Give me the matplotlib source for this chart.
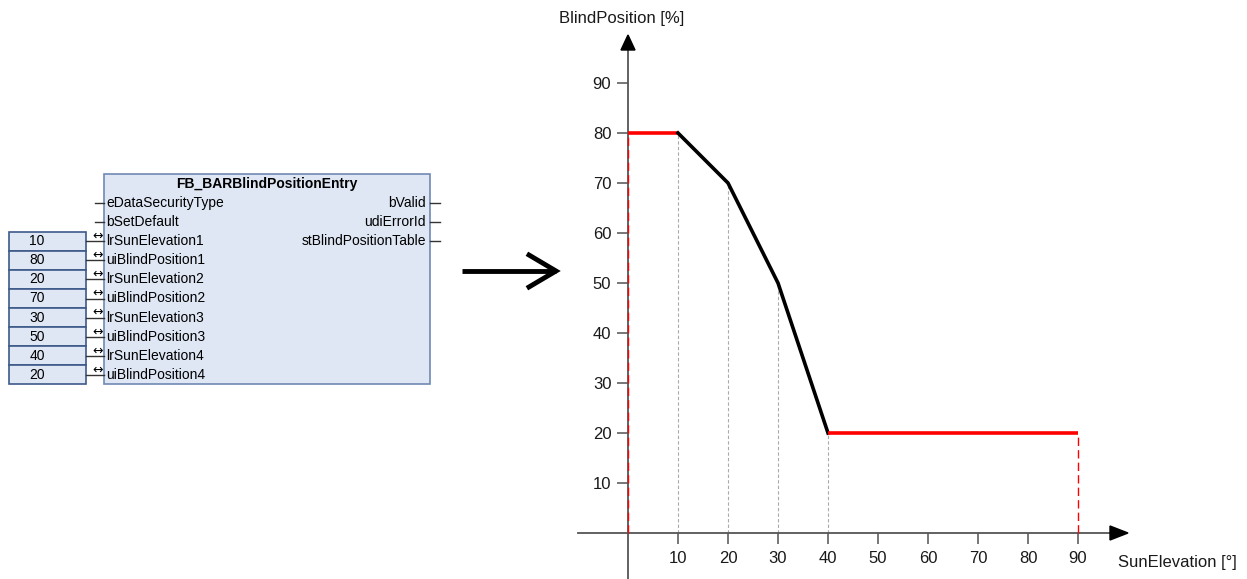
"""Blind position table: function block inputs and the resulting curve."""

import numpy as np
import matplotlib.pyplot as plt
from matplotlib.patches import Rectangle

plt.rcParams['font.family'] = ['Liberation Sans', 'DejaVu Sans']

# ============================================================
# Data
# ============================================================
sun_elevation = [10, 20, 30, 40]
blind_position = [80, 70, 50, 20]
elev_max = 90

block_title = "FB_BARBlindPositionEntry"
plain_inputs = ["eDataSecurityType", "bSetDefault"]
table_inputs = ["lrSunElevation1", "uiBlindPosition1", "lrSunElevation2", "uiBlindPosition2",
                "lrSunElevation3", "uiBlindPosition3", "lrSunElevation4", "uiBlindPosition4"]
outputs = ["bValid", "udiErrorId", "stBlindPositionTable"]

y_ticks = [10, 20, 30, 40, 50, 60, 70, 80, 90]
x_ticks = [10, 20, 30, 40, 50, 60, 70, 80, 90]

# table values alternate elevation / position
table_values = []
for e, p in zip(sun_elevation, blind_position):
    table_values += [e, p]

W, H = 1247, 579
fig = plt.figure(figsize=(W / 100, H / 100), dpi=100)

# ============================================================
# Left part: function block (pixel coordinates)
# ============================================================
axl = fig.add_axes([0, 0, 1, 1])
axl.set_xlim(0, W)
axl.set_ylim(H, 0)
axl.axis("off")

face = "#dfe7f5"
edge = "#7189b3"
bx0, bx1, by0, by1 = 104, 430, 174, 384
row_h = 19.1
axl.add_patch(Rectangle((bx0, by0), bx1 - bx0, by1 - by0, facecolor=face, edgecolor=edge, lw=1.2))
axl.text((bx0 + bx1) / 2, 184, block_title, fontsize=10, fontweight="bold", ha="center", va="center")

row0 = 203
for i, name in enumerate(plain_inputs):
    y = row0 + i * row_h
    axl.plot([95, bx0], [y, y], color="#333333", lw=1)
    axl.text(bx0 + 2, y, name, fontsize=10, ha="left", va="center")

for j, (name, val) in enumerate(zip(table_inputs, table_values)):
    i = j + len(plain_inputs)
    y = row0 + i * row_h
    axl.add_patch(Rectangle((9, y - row_h / 2), 77, row_h, facecolor=face, edgecolor="#3d5a8a", lw=1.2))
    axl.text(37, y, str(val), fontsize=10, ha="center", va="center")
    axl.plot([86, bx0], [y, y], color="#333333", lw=1)
    axl.text(98, y - 5, "\u2194", fontsize=9, ha="center", va="center",
             family=["DejaVu Sans"])
    axl.text(bx0 + 2, y, name, fontsize=10, ha="left", va="center")

for i, name in enumerate(outputs):
    y = row0 + i * row_h
    axl.plot([bx1, 440], [y, y], color="#333333", lw=1)
    axl.text(bx1 - 4, y, name, fontsize=10, ha="right", va="center")

# big arrow between block and chart
axl.plot([462, 556], [271, 271], color="black", lw=3.5, solid_capstyle="butt")
axl.plot([529, 556, 529], [255, 271, 287], color="black", lw=3.5, solid_joinstyle="miter")

# ============================================================
# Right part: blind position curve
# ============================================================
x0_px, y0_px, px_per_unit = 628, 533, 5.0
xmin, xmax = -12, 112
ymin, ymax = -9.2, 106
ax = fig.add_axes([(x0_px + xmin * px_per_unit) / W, (H - y0_px + ymin * px_per_unit) / H,
                   (xmax - xmin) * px_per_unit / W, (ymax - ymin) * px_per_unit / H])
ax.set_xlim(xmin, xmax)
ax.set_ylim(ymin, ymax)
ax.patch.set_alpha(0)

axis_col = "#555555"
for s in ["top", "right"]:
    ax.spines[s].set_visible(False)
ax.spines["left"].set_position(("data", 0))
ax.spines["bottom"].set_position(("data", 0))
ax.spines["left"].set_bounds(ymin, 97)
ax.spines["bottom"].set_bounds(-10, 97)
for s in ["left", "bottom"]:
    ax.spines[s].set_color(axis_col)
    ax.spines[s].set_linewidth(1.3)

# arrow heads
ax.fill([-1.4, 0, 1.4], [96.6, 99.6, 96.6], color="black", clip_on=False, zorder=5)
ax.fill([96.4, 100, 96.4], [-1.4, 0, 1.4], color="black", clip_on=False, zorder=5)

ax.set_xticks(x_ticks)
ax.set_yticks(y_ticks)
ax.tick_params(axis="both", direction="out", length=8, width=1.4, color="#777777",
               labelsize=12, labelcolor="#1a1a1a")
ax.tick_params(axis="y", pad=4)
ax.tick_params(axis="x", pad=5)

# guide lines down to the x axis
for e, p in zip(sun_elevation, blind_position):
    ax.plot([e, e], [0, p], color="#aaaaaa", lw=0.8, ls=(0, (3, 2)), zorder=2)
ax.plot([0, 0], [0, blind_position[0]], color="red", lw=1, ls=(0, (6, 3)), zorder=3)
ax.plot([elev_max, elev_max], [0, blind_position[-1]], color="red", lw=1, ls=(0, (6, 3)), zorder=3)

# curve
ax.plot([0, sun_elevation[0]], [blind_position[0]] * 2, color="red", lw=2.6, zorder=4,
        solid_capstyle="butt")
ax.plot(sun_elevation, blind_position, color="black", lw=2.6, zorder=4)
ax.plot([sun_elevation[-1], elev_max], [blind_position[-1]] * 2, color="red", lw=2.6, zorder=4,
        solid_capstyle="butt")

ax.text(-1.2, 102.8, "BlindPosition [%]", fontsize=12, ha="center", va="center",
        color="#1a1a1a", clip_on=False)
ax.text(109.8, -6, "SunElevation [°]", fontsize=12, ha="center", va="center",
        color="#1a1a1a", clip_on=False)

fig.savefig("out.png", dpi=100)
